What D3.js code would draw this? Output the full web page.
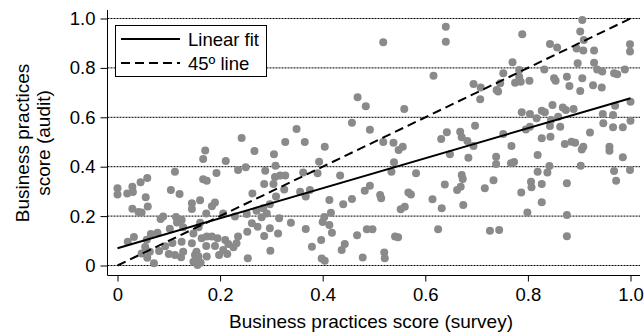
<!DOCTYPE html>
<html><head><meta charset="utf-8">
<script src="https://cdn.jsdelivr.net/npm/d3@7"></script>
<style>body{margin:0;background:#fff}svg{display:block;font-family:"Liberation Sans",Arial,sans-serif}</style>
</head><body>
<svg id="c" width="644" height="335"></svg>
<script>
const surveyScore = [0.242,0.171,0.267,0.167,0.211,0.112,0.193,0.235,0.250,0.288,0.167,0.174,0.058,0.045,0.029,0.000,0.000,0.019,0.030,0.055,0.104,0.121,0.286,0.263,0.161,0.145,0.145,0.190,0.184,0.059,0.029,0.041,0.047,0.173,0.206,0.229,0.252,0.271,0.284,0.291,0.281,0.089,0.084,0.114,0.125,0.116,0.102,0.128,0.158,0.148,0.161,0.262,0.253,0.235,0.273,0.286,0.065,0.078,0.032,0.020,0.057,0.093,0.107,0.125,0.054,0.063,0.081,0.047,0.058,0.071,0.100,0.112,0.124,0.128,0.145,0.154,0.164,0.174,0.184,0.195,0.173,0.190,0.210,0.216,0.206,0.198,0.214,0.226,0.232,0.151,0.158,0.148,0.156,0.162,0.174,0.254,0.298,
0.305,0.308,0.307,0.317,0.327,0.304,0.325,0.309,0.393,0.362,0.390,0.434,0.356,0.375,0.367,0.413,0.440,0.457,0.482,0.492,0.512,0.514,0.539,0.534,0.582,0.567,0.572,0.552,0.560,0.614,0.632,0.638,0.297,0.315,0.338,0.403,0.400,0.416,0.413,0.367,0.297,0.313,0.418,0.467,0.486,0.497,0.541,0.547,0.625,0.397,0.379,0.443,0.437,0.398,0.404,0.478,0.520,0.521,
0.518,0.640,0.640,0.616,0.468,0.484,0.559,0.457,0.349,0.492,0.327,0.365,0.404,0.518,0.538,0.556,0.631,0.642,0.548,
0.789,0.906,0.902,0.909,0.843,0.857,0.895,0.908,0.929,0.999,0.999,0.770,0.897,0.929,0.935,0.945,0.989,0.968,0.974,0.752,0.783,0.783,0.832,0.851,0.854,0.876,0.881,0.906,0.902,0.927,0.944,0.803,0.775,0.786,0.746,0.694,0.708,0.739,0.742,0.707,0.788,0.804,0.827,0.833,0.848,0.868,0.874,0.889,0.817,0.845,0.859,0.946,0.970,0.966,0.947,1.000,1.000,0.966,0.985,0.796,0.804,0.843,0.863,0.668,0.697,0.752,0.671,0.682,0.694,0.827,0.844,0.921,0.768,0.872,0.885,0.892,0.908,0.959,0.648,0.684,0.905,0.959,0.985,0.738,0.738,0.767,0.773,0.819,0.842,0.838,0.819,0.903,0.968,0.972,0.999,0.671,0.673,0.669,0.662,0.733,0.716,0.806,0.807,0.827,0.787,0.876,0.674,0.827,0.799,0.876,0.726,0.744,0.876];
const auditScore = [0.516,0.466,0.464,0.431,0.423,0.380,0.374,0.387,0.398,0.384,0.349,0.343,0.354,0.337,0.319,0.313,0.287,0.292,0.298,0.276,0.306,0.289,0.330,0.292,0.264,0.252,0.229,0.255,0.240,0.239,0.230,0.217,0.215,0.211,0.211,0.198,0.209,0.222,0.232,0.211,0.195,0.198,0.188,0.196,0.184,0.174,0.149,0.155,0.155,0.130,0.173,0.171,0.137,0.117,0.157,0.119,0.128,0.133,0.115,0.096,0.104,0.078,0.091,0.096,0.075,0.056,0.059,0.049,0.031,0.009,0.047,0.043,0.033,0.056,0.090,0.056,0.110,0.117,0.117,0.110,0.079,0.079,0.103,0.087,0.063,0.043,0.047,0.074,0.090,0.043,0.036,0.015,0.002,0.011,0.036,0.029,0.060,
0.450,0.404,0.358,0.364,0.364,0.330,0.308,0.279,0.420,0.377,0.373,0.364,0.299,0.306,0.279,0.265,0.248,0.269,0.303,0.323,0.285,0.272,0.418,0.380,0.373,0.296,0.287,0.228,0.238,0.268,0.232,0.328,0.248,0.191,0.173,0.196,0.176,0.214,0.164,0.148,0.151,0.130,0.133,0.122,0.147,0.147,0.117,0.114,0.147,0.103,0.076,0.087,0.063,0.028,0.019,0.032,0.053,0.029,
0.904,0.967,0.906,0.768,0.681,0.645,0.634,0.578,0.553,0.550,0.500,0.500,0.481,0.500,0.497,0.481,0.512,0.539,0.468,
0.936,0.994,0.947,0.913,0.897,0.883,0.879,0.870,0.870,0.896,0.866,0.823,0.819,0.821,0.794,0.785,0.794,0.778,0.774,0.778,0.791,0.764,0.794,0.758,0.748,0.764,0.727,0.758,0.706,0.730,0.721,0.748,0.740,0.744,0.738,0.735,0.721,0.711,0.704,0.673,0.620,0.613,0.627,0.620,0.650,0.640,0.630,0.634,0.596,0.589,0.602,0.613,0.647,0.609,0.576,0.663,0.586,0.560,0.560,0.551,0.562,0.565,0.562,0.542,0.566,0.532,0.519,0.504,0.484,0.515,0.521,0.538,0.484,0.492,0.501,0.497,0.481,0.481,0.450,0.436,0.470,0.465,0.438,0.440,0.411,0.414,0.419,0.447,0.403,0.377,0.380,0.404,0.383,0.343,0.387,0.366,0.350,0.319,0.306,0.345,0.313,0.339,0.317,0.330,0.296,0.333,0.245,0.256,0.215,0.204,0.141,0.144,0.118];
const tickValues = [0,0.2,0.4,0.6,0.8,1.0];
const tickLabels = ["0","0.2","0.4","0.6","0.8","1.0"];
const fitIntercept = 0.07, fitSlope = 0.607;
const legendLabels = ["Linear fit","45\u00BA line"];
const xTitle = "Business practices score (survey)";
const yTitleLines = ["Business practices","score (audit)"];

const svg = d3.select("#c");
const x = d3.scaleLinear().domain([0,1]).range([117.5,630.5]);
const y = d3.scaleLinear().domain([0,1]).range([265.5,18.5]);
const axisX0 = 107.5, axisY0 = 275.5, right = 640;
const fs = 18.5;

// gridlines
svg.append("g").selectAll("line").data(tickValues).join("line")
  .attr("x1",axisX0).attr("x2",right).attr("y1",d=>y(d)).attr("y2",d=>y(d))
  .attr("stroke","#000").attr("stroke-width",1).attr("stroke-dasharray","2,1");

// points
svg.append("g").selectAll("circle").data(surveyScore.map((v,i)=>[v,auditScore[i]])).join("circle")
  .attr("cx",d=>x(d[0])).attr("cy",d=>y(d[1])).attr("r",4).attr("fill","#8a8a8a");

// lines
const line = d3.line().x(d=>x(d[0])).y(d=>y(d[1]));
svg.append("path").attr("d",line([[0,fitIntercept],[1,fitIntercept+fitSlope]]))
  .attr("stroke","#000").attr("stroke-width",2).attr("fill","none");
svg.append("path").attr("d",line([[0,0],[1,1]]))
  .attr("stroke","#000").attr("stroke-width",2).attr("stroke-dasharray","9,5").attr("fill","none");

// axes
const yAxis = d3.axisLeft(y).tickValues(tickValues).tickFormat((d,i)=>tickLabels[i]).tickSize(7).tickPadding(5);
const gy = svg.append("g").attr("transform",`translate(${axisX0},0)`).call(yAxis);
gy.select(".domain").remove();
const xAxis = d3.axisBottom(x).tickValues(tickValues).tickFormat((d,i)=>tickLabels[i]).tickSize(6).tickPadding(6);
const gx = svg.append("g").attr("transform",`translate(0,${axisY0})`).call(xAxis);
gx.select(".domain").remove();
[gx,gy].forEach(g=>{g.selectAll("text").attr("font-size",fs).attr("fill","#000").attr("font-family","Liberation Sans, Arial, sans-serif");
  g.selectAll("line").attr("stroke","#000");});
svg.append("line").attr("x1",axisX0).attr("x2",axisX0).attr("y1",10).attr("y2",axisY0).attr("stroke","#000");
svg.append("line").attr("x1",axisX0).attr("x2",right).attr("y1",axisY0).attr("y2",axisY0).attr("stroke","#000");

// titles
svg.append("text").attr("x",371).attr("y",328).attr("text-anchor","middle").attr("font-size",19).text(xTitle);
const yt = svg.append("text").attr("transform","translate(29,143) rotate(-90)").attr("text-anchor","middle").attr("font-size",19);
yTitleLines.forEach((t,i)=>yt.append("tspan").attr("x",0).attr("dy",i?21:0).text(t));

// legend
const lg = svg.append("g");
lg.append("rect").attr("x",115.5).attr("y",25.5).attr("width",151).attr("height",51).attr("fill","#fff").attr("stroke","#000");
legendLabels.forEach((t,i)=>{
  const yy = 39 + i*24;
  lg.append("line").attr("x1",121).attr("x2",180).attr("y1",yy).attr("y2",yy).attr("stroke","#000").attr("stroke-width",2)
    .attr("stroke-dasharray",i?"9,5":null);
  lg.append("text").attr("x",188).attr("y",yy+6.5).attr("font-size",18.5).text(t);
});
</script>
</body></html>
